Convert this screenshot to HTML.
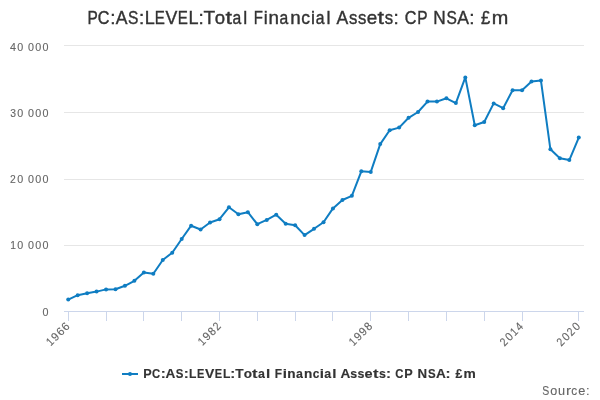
<!DOCTYPE html>
<html><head><meta charset="utf-8"><title>chart</title>
<style>
html,body{margin:0;padding:0;background:#fff;}
body{width:600px;height:400px;overflow:hidden;font-family:"Liberation Sans",sans-serif;}
svg{display:block;font-family:"Liberation Sans",sans-serif;will-change:transform;}
</style></head><body>
<svg width="600" height="400" viewBox="0 0 600 400">
<rect width="600" height="400" fill="#ffffff"/>
<g stroke="#e6e6e6" stroke-width="1" fill="none"><path d="M64 45.5 H584"/><path d="M64 112.5 H584"/><path d="M64 179.5 H584"/><path d="M64 245.5 H584"/></g>
<g stroke="#ccd6eb" stroke-width="1" fill="none"><path d="M64 311.5 H584"/><path d="M68.5 311 V321"/><path d="M106.5 311 V321"/><path d="M143.5 311 V321"/><path d="M181.5 311 V321"/><path d="M219.5 311 V321"/><path d="M257.5 311 V321"/><path d="M295.5 311 V321"/><path d="M332.5 311 V321"/><path d="M370.5 311 V321"/><path d="M408.5 311 V321"/><path d="M446.5 311 V321"/><path d="M484.5 311 V321"/><path d="M522.5 311 V321"/><path d="M578.5 311 V321"/></g>
<g font-size="19.19" fill="#333333" stroke="#333333" stroke-width="0.4"><text transform="translate(87.58 23.70) scale(0.805 1)">P</text><text transform="translate(97.82 23.70) scale(0.844 1)">C</text><text transform="translate(110.17 23.70) scale(0.984 1)">:</text><text transform="translate(115.83 23.70) scale(0.916 1)">A</text><text transform="translate(128.11 23.70) scale(0.811 1)">S</text><text transform="translate(139.07 23.70) scale(0.984 1)">:</text><text transform="translate(144.87 23.70) scale(0.936 1)">L</text><text transform="translate(154.83 23.70) scale(0.788 1)">E</text><text transform="translate(165.44 23.70) scale(0.923 1)">V</text><text transform="translate(177.79 23.70) scale(0.788 1)">E</text><text transform="translate(188.59 23.70) scale(0.936 1)">L</text><text transform="translate(198.40 23.70) scale(0.984 1)">:</text><text transform="translate(203.48 23.70) scale(0.992 1)">T</text><text transform="translate(214.80 23.70) scale(0.967 1)">o</text><text transform="translate(225.41 23.70) scale(1.216 1)">t</text><text transform="translate(232.52 23.70) scale(0.818 1)">a</text><text transform="translate(243.28 23.70) scale(0.930 1)">l</text><text transform="translate(253.72 23.70) scale(0.780 1)">F</text><text transform="translate(263.72 23.70) scale(0.930 1)">i</text><text transform="translate(268.46 23.70) scale(0.981 1)">n</text><text transform="translate(279.56 23.70) scale(0.818 1)">a</text><text transform="translate(290.21 23.70) scale(0.981 1)">n</text><text transform="translate(301.16 23.70) scale(0.913 1)">c</text><text transform="translate(310.99 23.70) scale(0.930 1)">i</text><text transform="translate(315.77 23.70) scale(0.818 1)">a</text><text transform="translate(326.52 23.70) scale(0.930 1)">l</text><text transform="translate(336.58 23.70) scale(0.916 1)">A</text><text transform="translate(348.90 23.70) scale(0.872 1)">s</text><text transform="translate(357.99 23.70) scale(0.872 1)">s</text><text transform="translate(366.77 23.70) scale(0.983 1)">e</text><text transform="translate(377.46 23.70) scale(1.216 1)">t</text><text transform="translate(384.67 23.70) scale(0.872 1)">s</text><text transform="translate(393.60 23.70) scale(0.984 1)">:</text><text transform="translate(404.87 23.70) scale(0.844 1)">C</text><text transform="translate(417.34 23.70) scale(0.805 1)">P</text><text transform="translate(433.27 23.70) scale(0.899 1)">N</text><text transform="translate(446.47 23.70) scale(0.811 1)">S</text><text transform="translate(457.21 23.70) scale(0.916 1)">A</text><text transform="translate(469.37 23.70) scale(0.984 1)">:</text><text transform="translate(481.11 23.70) scale(0.864 1)">£</text><text transform="translate(491.85 23.70) scale(1.037 1)">m</text></g>
<g font-size="11.63" fill="#666666" stroke="#666666" stroke-width="0.12"><text transform="translate(10.05 51.00) scale(0.924 1)">4</text><text transform="translate(17.26 51.00) scale(0.923 1)">0</text><text transform="translate(28.06 51.00) scale(0.923 1)">0</text><text transform="translate(35.26 51.00) scale(0.923 1)">0</text><text transform="translate(42.46 51.00) scale(0.923 1)">0</text><text transform="translate(10.19 116.50) scale(0.887 1)">3</text><text transform="translate(17.26 116.50) scale(0.923 1)">0</text><text transform="translate(28.06 116.50) scale(0.923 1)">0</text><text transform="translate(35.26 116.50) scale(0.923 1)">0</text><text transform="translate(42.46 116.50) scale(0.923 1)">0</text><text transform="translate(10.02 183.00) scale(0.890 1)">2</text><text transform="translate(17.26 183.00) scale(0.923 1)">0</text><text transform="translate(28.06 183.00) scale(0.923 1)">0</text><text transform="translate(35.26 183.00) scale(0.923 1)">0</text><text transform="translate(42.46 183.00) scale(0.923 1)">0</text><text transform="translate(10.16 249.00) scale(0.882 1)">1</text><text transform="translate(17.26 249.00) scale(0.923 1)">0</text><text transform="translate(28.06 249.00) scale(0.923 1)">0</text><text transform="translate(35.26 249.00) scale(0.923 1)">0</text><text transform="translate(42.46 249.00) scale(0.923 1)">0</text><text transform="translate(42.46 316.00) scale(0.923 1)">0</text></g>
<g font-size="11.63" fill="#666666" stroke="#666666" stroke-width="0.12"><g transform="translate(70.73 326.7) rotate(-45)"><text transform="translate(-28.08 0.00) scale(0.882 1)">1</text><text transform="translate(-21.11 0.00) scale(0.954 1)">9</text><text transform="translate(-13.88 0.00) scale(0.956 1)">6</text><text transform="translate(-6.68 0.00) scale(0.956 1)">6</text></g><g transform="translate(222.00 326.7) rotate(-45)"><text transform="translate(-27.66 0.00) scale(0.882 1)">1</text><text transform="translate(-20.69 0.00) scale(0.954 1)">9</text><text transform="translate(-13.39 0.00) scale(0.933 1)">8</text><text transform="translate(-6.20 0.00) scale(0.890 1)">2</text></g><g transform="translate(373.27 326.7) rotate(-45)"><text transform="translate(-28.02 0.00) scale(0.882 1)">1</text><text transform="translate(-21.05 0.00) scale(0.954 1)">9</text><text transform="translate(-13.85 0.00) scale(0.954 1)">9</text><text transform="translate(-6.55 0.00) scale(0.933 1)">8</text></g><g transform="translate(524.55 326.7) rotate(-45)"><text transform="translate(-28.30 0.00) scale(0.890 1)">2</text><text transform="translate(-21.06 0.00) scale(0.923 1)">0</text><text transform="translate(-13.76 0.00) scale(0.882 1)">1</text><text transform="translate(-6.66 0.00) scale(0.924 1)">4</text></g><g transform="translate(581.27 326.7) rotate(-45)"><text transform="translate(-28.18 0.00) scale(0.890 1)">2</text><text transform="translate(-20.94 0.00) scale(0.923 1)">0</text><text transform="translate(-13.78 0.00) scale(0.890 1)">2</text><text transform="translate(-6.54 0.00) scale(0.923 1)">0</text></g></g>
<path d="M68.23 299.60 L77.68 295.20 L87.14 293.20 L96.59 291.60 L106.05 289.40 L115.50 289.20 L124.95 285.80 L134.41 280.80 L143.86 272.40 L153.32 273.80 L162.77 259.95 L172.23 252.70 L181.68 238.95 L191.14 225.70 L200.59 229.45 L210.05 222.45 L219.50 219.20 L228.95 207.30 L238.41 214.20 L247.86 212.20 L257.32 224.20 L266.77 219.95 L276.23 214.70 L285.68 223.70 L295.14 225.20 L304.59 235.10 L314.05 228.80 L323.50 222.20 L332.95 208.40 L342.41 200.00 L351.86 195.80 L361.32 171.30 L370.77 171.90 L380.23 144.10 L389.68 130.30 L399.14 127.60 L408.59 117.80 L418.05 112.00 L427.50 101.60 L436.95 101.60 L446.41 98.30 L455.86 103.10 L465.32 77.40 L474.77 125.30 L484.23 122.00 L493.68 103.40 L503.14 108.20 L512.59 90.20 L522.05 90.20 L531.50 81.50 L540.95 80.60 L550.41 149.30 L559.86 158.30 L569.32 160.10 L578.77 137.60" fill="none" stroke="#0f7dc2" stroke-width="2" stroke-linejoin="round" stroke-linecap="round"/>
<g fill="#0f7dc2"><circle cx="68.23" cy="299.60" r="2.0"/><circle cx="77.68" cy="295.20" r="2.0"/><circle cx="87.14" cy="293.20" r="2.0"/><circle cx="96.59" cy="291.60" r="2.0"/><circle cx="106.05" cy="289.40" r="2.0"/><circle cx="115.50" cy="289.20" r="2.0"/><circle cx="124.95" cy="285.80" r="2.0"/><circle cx="134.41" cy="280.80" r="2.0"/><circle cx="143.86" cy="272.40" r="2.0"/><circle cx="153.32" cy="273.80" r="2.0"/><circle cx="162.77" cy="259.95" r="2.0"/><circle cx="172.23" cy="252.70" r="2.0"/><circle cx="181.68" cy="238.95" r="2.0"/><circle cx="191.14" cy="225.70" r="2.0"/><circle cx="200.59" cy="229.45" r="2.0"/><circle cx="210.05" cy="222.45" r="2.0"/><circle cx="219.50" cy="219.20" r="2.0"/><circle cx="228.95" cy="207.30" r="2.0"/><circle cx="238.41" cy="214.20" r="2.0"/><circle cx="247.86" cy="212.20" r="2.0"/><circle cx="257.32" cy="224.20" r="2.0"/><circle cx="266.77" cy="219.95" r="2.0"/><circle cx="276.23" cy="214.70" r="2.0"/><circle cx="285.68" cy="223.70" r="2.0"/><circle cx="295.14" cy="225.20" r="2.0"/><circle cx="304.59" cy="235.10" r="2.0"/><circle cx="314.05" cy="228.80" r="2.0"/><circle cx="323.50" cy="222.20" r="2.0"/><circle cx="332.95" cy="208.40" r="2.0"/><circle cx="342.41" cy="200.00" r="2.0"/><circle cx="351.86" cy="195.80" r="2.0"/><circle cx="361.32" cy="171.30" r="2.0"/><circle cx="370.77" cy="171.90" r="2.0"/><circle cx="380.23" cy="144.10" r="2.0"/><circle cx="389.68" cy="130.30" r="2.0"/><circle cx="399.14" cy="127.60" r="2.0"/><circle cx="408.59" cy="117.80" r="2.0"/><circle cx="418.05" cy="112.00" r="2.0"/><circle cx="427.50" cy="101.60" r="2.0"/><circle cx="436.95" cy="101.60" r="2.0"/><circle cx="446.41" cy="98.30" r="2.0"/><circle cx="455.86" cy="103.10" r="2.0"/><circle cx="465.32" cy="77.40" r="2.0"/><circle cx="474.77" cy="125.30" r="2.0"/><circle cx="484.23" cy="122.00" r="2.0"/><circle cx="493.68" cy="103.40" r="2.0"/><circle cx="503.14" cy="108.20" r="2.0"/><circle cx="512.59" cy="90.20" r="2.0"/><circle cx="522.05" cy="90.20" r="2.0"/><circle cx="531.50" cy="81.50" r="2.0"/><circle cx="540.95" cy="80.60" r="2.0"/><circle cx="550.41" cy="149.30" r="2.0"/><circle cx="559.86" cy="158.30" r="2.0"/><circle cx="569.32" cy="160.10" r="2.0"/><circle cx="578.77" cy="137.60" r="2.0"/></g>
<path d="M122 374 H138" stroke="#0f7dc2" stroke-width="2" fill="none"/><circle cx="130" cy="374" r="2.0" fill="#0f7dc2"/>
<g font-size="12.65" font-weight="bold" fill="#333333" stroke="#333333" stroke-width="0.15"><text transform="translate(143.23 377.80) scale(1.002 1)">P</text><text transform="translate(152.04 377.80) scale(0.897 1)">C</text><text transform="translate(160.71 377.80) scale(1.185 1)">:</text><text transform="translate(165.46 377.80) scale(1.077 1)">A</text><text transform="translate(175.70 377.80) scale(0.907 1)">S</text><text transform="translate(183.82 377.80) scale(1.185 1)">:</text><text transform="translate(189.12 377.80) scale(0.954 1)">L</text><text transform="translate(196.96 377.80) scale(0.873 1)">E</text><text transform="translate(204.91 377.80) scale(1.106 1)">V</text><text transform="translate(214.74 377.80) scale(0.873 1)">E</text><text transform="translate(223.00 377.80) scale(0.954 1)">L</text><text transform="translate(230.34 377.80) scale(1.185 1)">:</text><text transform="translate(235.26 377.80) scale(1.078 1)">T</text><text transform="translate(243.66 377.80) scale(1.067 1)">o</text><text transform="translate(252.05 377.80) scale(1.320 1)">t</text><text transform="translate(258.03 377.80) scale(0.981 1)">a</text><text transform="translate(266.01 377.80) scale(1.204 1)">l</text><text transform="translate(274.84 377.80) scale(0.945 1)">F</text><text transform="translate(282.77 377.80) scale(1.204 1)">i</text><text transform="translate(287.17 377.80) scale(1.076 1)">n</text><text transform="translate(295.88 377.80) scale(0.981 1)">a</text><text transform="translate(304.08 377.80) scale(1.076 1)">n</text><text transform="translate(312.69 377.80) scale(0.936 1)">c</text><text transform="translate(319.78 377.80) scale(1.204 1)">i</text><text transform="translate(324.21 377.80) scale(0.981 1)">a</text><text transform="translate(332.19 377.80) scale(1.204 1)">l</text><text transform="translate(340.45 377.80) scale(1.077 1)">A</text><text transform="translate(350.33 377.80) scale(0.977 1)">s</text><text transform="translate(357.59 377.80) scale(0.977 1)">s</text><text transform="translate(364.62 377.80) scale(1.149 1)">e</text><text transform="translate(372.94 377.80) scale(1.320 1)">t</text><text transform="translate(378.95 377.80) scale(0.977 1)">s</text><text transform="translate(385.90 377.80) scale(1.185 1)">:</text><text transform="translate(395.30 377.80) scale(0.897 1)">C</text><text transform="translate(404.37 377.80) scale(1.002 1)">P</text><text transform="translate(417.53 377.80) scale(1.050 1)">N</text><text transform="translate(428.04 377.80) scale(0.907 1)">S</text><text transform="translate(436.02 377.80) scale(1.077 1)">A</text><text transform="translate(445.59 377.80) scale(1.185 1)">:</text><text transform="translate(455.46 377.80) scale(0.974 1)">£</text><text transform="translate(463.47 377.80) scale(1.093 1)">m</text></g>
<g font-size="12.79" fill="#666666" stroke="#666666" stroke-width="0.12"><text transform="translate(542.35 395.00) scale(0.822 1)">S</text><text transform="translate(550.21 395.00) scale(0.980 1)">o</text><text transform="translate(558.03 395.00) scale(0.994 1)">u</text><text transform="translate(565.91 395.00) scale(1.182 1)">r</text><text transform="translate(571.22 395.00) scale(0.925 1)">c</text><text transform="translate(578.19 395.00) scale(0.996 1)">e</text><text transform="translate(585.97 395.00) scale(0.998 1)">:</text></g>
</svg>
</body></html>
